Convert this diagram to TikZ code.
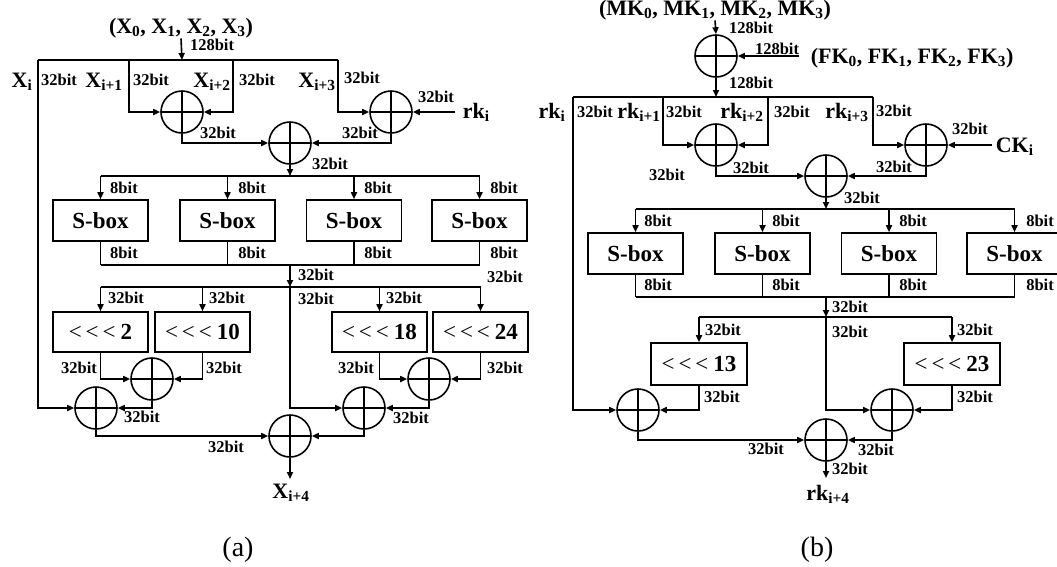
\documentclass[tikz,border=0pt]{standalone}
\usepackage{fontspec}
\setmainfont{Liberation Serif}
\usetikzlibrary{arrows.meta}
\newcommand\ssb[1]{\textsubscript{#1}}
\newcommand\myrot[1]{{\mdseries\fontsize{23}{23}\selectfont<\hspace{4pt}<\hspace{4pt}<}\hspace{5pt}#1}
\begin{document}
\begin{tikzpicture}[x=1pt,y=-1pt,line width=1.6pt,
  lbl/.style={font=\bfseries\fontsize{16.5}{17}\selectfont,inner sep=0pt},
  big/.style={font=\bfseries\fontsize{22}{22}\selectfont,inner sep=0pt,anchor=base},
  arr/.style={-{Triangle[length=7pt,width=6pt]}},
  xor/.style={circle,draw,line width=1.6pt,minimum size=42pt,inner sep=0pt,
    path picture={\draw[line width=1.6pt] (path picture bounding box.north) -- (path picture bounding box.south)
      (path picture bounding box.west) -- (path picture bounding box.east);}},
  sbox/.style={draw,minimum width=95pt,minimum height=41pt,inner sep=0pt,font=\bfseries\fontsize{23}{23}\selectfont},
  rbox/.style={draw,minimum width=95pt,minimum height=40pt,inner sep=0pt,font=\bfseries\fontsize{23}{23}\selectfont},
  captxt/.style={font=\fontsize{28}{28}\selectfont,inner sep=0pt}]
\useasboundingbox (0,0) rectangle (1057,566);

% ================= (a) =================
\node[big] (ain) at (181,33) {(X\ssb{0}, X\ssb{1}, X\ssb{2}, X\ssb{3})};
\coordinate (atop) at (182,60);
\coordinate (aTL) at (38,60);
\coordinate (aTR) at (338,60);
\coordinate (aL1) at (129,60);
\coordinate (aR1) at (233,60);
\node[xor] (ax1) at (182,112) {};
\node[xor] (ax2) at (391,112) {};
\node[xor] (ax3) at (290,143) {};
\node[big,anchor=base west] (ark) at (462,118) {rk\ssb{i}};
\coordinate (arkL) at (455,112);
\draw[arr] (ain.south) -- (atop);
\draw (aTL) -- (aTR);
\draw[arr] (aL1) |- (ax1.west);
\draw[arr] (aR1) |- (ax1.east);
\draw[arr] (aTR) |- (ax2.west);
\draw[arr] (arkL) -- (ax2.east);
\draw[arr] (ax1.south) |- (ax3.west);
\draw[arr] (ax2.south) |- (ax3.east);

\coordinate (aD1) at (290,176);
\coordinate (aD1L) at (100.5,176);
\coordinate (aD1R) at (479.5,176);
\draw[arr] (ax3.south) -- (aD1);
\draw (aD1L) -- (aD1R);
\node[sbox] (as1) at (100.5,220.5) {S-box};
\node[sbox] (as2) at (227.5,220.5) {S-box};
\node[sbox] (as3) at (354,220.5) {S-box};
\node[sbox] (as4) at (479.5,220.5) {S-box};
\foreach \b in {as1,as2,as3,as4} \draw[arr] (\b.north |- aD1) -- (\b.north);
\coordinate (aD2) at (290,265);
\coordinate (aD2L) at (100.5,265);
\coordinate (aD2R) at (479.5,265);
\foreach \b in {as1,as2,as3,as4} \draw (\b.south) -- (\b.south |- aD2);
\draw (aD2L) -- (aD2R);
\coordinate (aD3) at (290,287);
\coordinate (aD3L) at (100.5,287);
\coordinate (aD3R) at (480.5,287);
\draw[arr] (aD2) -- (aD3);
\draw (aD3L) -- (aD3R);
\node[rbox] (ar1) at (100.5,332) {\myrot{2}};
\node[rbox] (ar2) at (202.5,332) {\myrot{10}};
\node[rbox] (ar3) at (379.5,332) {\myrot{18}};
\node[rbox] (ar4) at (480.5,332) {\myrot{24}};
\foreach \b in {ar1,ar2,ar3,ar4} \draw[arr] (\b.north |- aD3) -- (\b.north);
\node[xor] (axL1) at (152,379) {};
\node[xor] (axL2) at (96,408) {};
\node[xor] (axR1) at (429,379) {};
\node[xor] (axR2) at (364,408) {};
\node[xor] (axF) at (290,436) {};
\draw[arr] (ar1.south) |- (axL1.west);
\draw[arr] (ar2.south) |- (axL1.east);
\draw[arr] (aTL) |- (axL2.west);
\draw[arr] (axL1.south) |- (axL2.east);
\draw[arr] (ar3.south) |- (axR1.west);
\draw[arr] (ar4.south) |- (axR1.east);
\draw[arr] (aD3) |- (axR2.west);
\draw[arr] (axR1.south) |- (axR2.east);
\draw[arr] (axL2.south) |- (axF.west);
\draw[arr] (axR2.south) |- (axF.east);
\coordinate (aEnd) at (290,479);
\draw[arr] (axF.south) -- (aEnd);
\node[big] (aout) at (291,498) {X\ssb{i+4}};
\node[captxt] (capa) at (238,550) {(a)};

\node[big] (aXi) at (22,87) {X\ssb{i}};
\node[big] (aXi1) at (104,87) {X\ssb{i+1}};
\node[big] (aXi2) at (212,87) {X\ssb{i+2}};
\node[big] (aXi3) at (317,87) {X\ssb{i+3}};
\node[lbl] (la1) at (212,45) {128bit};
\node[lbl] (la2) at (59,80) {32bit};
\node[lbl] (la3) at (151,80) {32bit};
\node[lbl] (la4) at (257,80) {32bit};
\node[lbl] (la5) at (362,78) {32bit};
\node[lbl] (la6) at (436,97) {32bit};
\node[lbl] (la7) at (218,133) {32bit};
\node[lbl] (la8) at (360,133) {32bit};
\node[lbl] (la9) at (330,164) {32bit};
\node[lbl] (lb1) at (124,188) {8bit};
\node[lbl] (lb2) at (252,188) {8bit};
\node[lbl] (lb3) at (378,188) {8bit};
\node[lbl] (lb4) at (504,188) {8bit};
\node[lbl] (lb5) at (124,253) {8bit};
\node[lbl] (lb6) at (252,253) {8bit};
\node[lbl] (lb7) at (378,253) {8bit};
\node[lbl] (lb8) at (504,253) {8bit};
\node[lbl] (lc1) at (316,275) {32bit};
\node[lbl] (lc2) at (505,277) {32bit};
\node[lbl] (lc3) at (126,298) {32bit};
\node[lbl] (lc4) at (227,298) {32bit};
\node[lbl] (lc5) at (316,299) {32bit};
\node[lbl] (lc6) at (404,298) {32bit};
\node[lbl] (lc7) at (79,368) {32bit};
\node[lbl] (lc8) at (224,368) {32bit};
\node[lbl] (lc9) at (356,368) {32bit};
\node[lbl] (ld1) at (505,368) {32bit};
\node[lbl] (ld2) at (142,417) {32bit};
\node[lbl] (ld3) at (411,418) {32bit};
\node[lbl] (ld4) at (226,447) {32bit};

% ================= (b) =================
\node[big] (bin) at (715,15) {(MK\ssb{0}, MK\ssb{1}, MK\ssb{2}, MK\ssb{3})};
\node[xor] (bxK) at (716,56) {};
\node[big,anchor=base west] (bfk) at (810,63) {(FK\ssb{0}, FK\ssb{1}, FK\ssb{2}, FK\ssb{3})};
\coordinate (bfkL) at (799,56);
\draw[arr] (bin.south) -- (bxK.north);
\draw[arr] (bfkL) -- (bxK.east);
\coordinate (btop) at (716,97);
\coordinate (bTL) at (573,97);
\coordinate (bTR) at (873,97);
\coordinate (bL1) at (663,97);
\coordinate (bR1) at (768,97);
\draw[arr] (bxK.south) -- (btop);
\draw (bTL) -- (bTR);
\node[xor] (bxA) at (716,145) {};
\node[xor] (bxB) at (926,145) {};
\node[xor] (bxC) at (826,176) {};
\node[big,anchor=base west] (bck) at (995,152) {CK\ssb{i}};
\coordinate (bckL) at (992,145);
\draw[arr] (bL1) |- (bxA.west);
\draw[arr] (bR1) |- (bxA.east);
\draw[arr] (bTR) |- (bxB.west);
\draw[arr] (bckL) -- (bxB.east);
\draw[arr] (bxA.south) |- (bxC.west);
\draw[arr] (bxB.south) |- (bxC.east);

\coordinate (bD1) at (826,209);
\coordinate (bD1L) at (635.5,209);
\coordinate (bD1R) at (1014.5,209);
\draw[arr] (bxC.south) -- (bD1);
\draw (bD1L) -- (bD1R);
\node[sbox] (bs1) at (635.5,253.5) {S-box};
\node[sbox] (bs2) at (762.5,253.5) {S-box};
\node[sbox] (bs3) at (889,253.5) {S-box};
\node[sbox] (bs4) at (1014.5,253.5) {S-box};
\foreach \b in {bs1,bs2,bs3,bs4} \draw[arr] (\b.north |- bD1) -- (\b.north);
\coordinate (bD2) at (826,297);
\coordinate (bD2L) at (635.5,297);
\coordinate (bD2R) at (1014.5,297);
\foreach \b in {bs1,bs2,bs3,bs4} \draw (\b.south) -- (\b.south |- bD2);
\draw (bD2L) -- (bD2R);
\coordinate (bD3) at (826,317);
\coordinate (bD3L) at (699,317);
\coordinate (bD3R) at (952,317);
\draw[arr] (bD2) -- (bD3);
\draw (bD3L) -- (bD3R);
\node[rbox,minimum width=96pt,minimum height=42pt] (br1) at (699,364) {\myrot{13}};
\node[rbox,minimum width=96pt,minimum height=42pt] (br2) at (952,364) {\myrot{23}};
\draw[arr] (bD3L) -- (br1.north);
\draw[arr] (bD3R) -- (br2.north);
\node[xor] (bxD) at (892,410) {};
\node[xor] (bxE) at (638,410) {};
\node[xor] (bxF) at (826,440) {};
\draw[arr] (bD3) |- (bxD.west);
\draw[arr] (br2.south) |- (bxD.east);
\draw[arr] (br1.south) |- (bxE.east);
\draw[arr] (bTL) |- (bxE.west);
\draw[arr] (bxE.south) |- (bxF.west);
\draw[arr] (bxD.south) |- (bxF.east);
\coordinate (bEnd) at (826,478);
\draw[arr] (bxF.south) -- (bEnd);
\node[big] (bout) at (828,500) {rk\ssb{i+4}};
\node[captxt] (capb) at (817,550) {(b)};

\node[big] (bRi) at (552,118) {rk\ssb{i}};
\node[big] (bRi1) at (639,118) {rk\ssb{i+1}};
\node[big] (bRi2) at (742,118) {rk\ssb{i+2}};
\node[big] (bRi3) at (847,118) {rk\ssb{i+3}};
\node[lbl] (m1) at (751,28) {128bit};
\node[lbl] (m2) at (777,49) {128bit};
\node[lbl] (m3) at (751,83) {128bit};
\node[lbl] (m4) at (595,112) {32bit};
\node[lbl] (m5) at (684,112) {32bit};
\node[lbl] (m6) at (792,112) {32bit};
\node[lbl] (m7) at (894,111) {32bit};
\node[lbl] (m8) at (970,129) {32bit};
\node[lbl] (m9) at (751,168) {32bit};
\node[lbl] (n1) at (667,175) {32bit};
\node[lbl] (n2) at (894,167) {32bit};
\node[lbl] (n3) at (862,198) {32bit};
\node[lbl] (n4) at (658,221) {8bit};
\node[lbl] (n5) at (786,221) {8bit};
\node[lbl] (n6) at (913,221) {8bit};
\node[lbl] (n7) at (1040,221) {8bit};
\node[lbl] (n8) at (658,285) {8bit};
\node[lbl] (n9) at (786,285) {8bit};
\node[lbl] (p1) at (913,285) {8bit};
\node[lbl] (p2) at (1040,285) {8bit};
\node[lbl] (p3) at (850,307) {32bit};
\node[lbl] (p4) at (723,330) {32bit};
\node[lbl] (p5) at (975,330) {32bit};
\node[lbl] (p6) at (850,332) {32bit};
\node[lbl] (p7) at (975,397) {32bit};
\node[lbl] (p8) at (722,397) {32bit};
\node[lbl] (p9) at (766,449) {32bit};
\node[lbl] (q1) at (876,450) {32bit};
\node[lbl] (q2) at (850,469) {32bit};
\end{tikzpicture}
\end{document}
